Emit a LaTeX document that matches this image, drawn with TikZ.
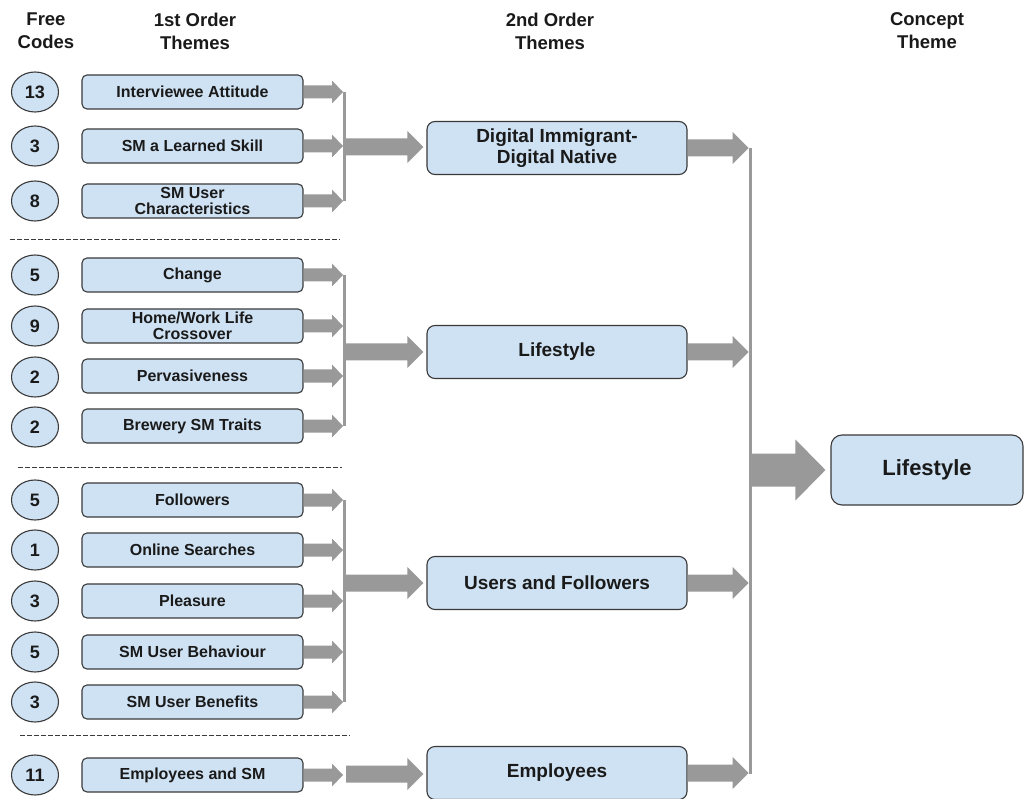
\documentclass[tikz,border=0pt]{standalone}
\usepackage{fontspec}
\setmainfont{Liberation Sans}
\usetikzlibrary{shapes.geometric,calc}

\definecolor{boxfill}{HTML}{CFE2F3}
\definecolor{boxline}{HTML}{3A3A3A}
\definecolor{arrowgray}{HTML}{999999}
\definecolor{inkcol}{HTML}{1A1A1A}

% horizontal block arrow: start, end, half shaft, half head, head length
\newcommand{\blockarr}[5]{%
  \fill[arrowgray] let \p1=(#1), \p2=(#2) in
    (\x1,{\y1+#3}) -- ({\x2-#5},{\y1+#3}) -- ({\x2-#5},{\y1+#4})
    -- (\x2,\y1) -- ({\x2-#5},{\y1-#4}) -- ({\x2-#5},{\y1-#3})
    -- (\x1,{\y1-#3}) -- cycle;}
\newcommand{\smallarr}[2]{\blockarr{#1}{#2}{6.5pt}{11.5pt}{11pt}}
\newcommand{\midarr}[2]{\blockarr{#1}{#2}{8.5pt}{16pt}{16pt}}

\begin{document}
\begin{tikzpicture}[x=1pt,y=-1pt,
  every node/.style={text=inkcol},
  head/.style={align=center,font=\fontsize{18.5}{23}\selectfont\bfseries},
  code/.style={ellipse,draw=boxline,line width=1.1pt,fill=boxfill,
    minimum width=47pt,minimum height=40pt,inner sep=0pt,
    font=\fontsize{18}{18}\selectfont\bfseries},
  first/.style={rectangle,rounded corners=5pt,draw=boxline,line width=1.1pt,
    fill=boxfill,minimum width=221pt,minimum height=34pt,inner sep=0pt,
    align=center,font=\fontsize{16}{16.5}\selectfont\bfseries},
  second/.style={rectangle,rounded corners=8pt,draw=boxline,line width=1.1pt,
    fill=boxfill,minimum width=260pt,minimum height=53pt,inner sep=0pt,
    align=center,font=\fontsize{19}{21}\selectfont\bfseries},
  concept/.style={rectangle,rounded corners=11pt,draw=boxline,line width=1.1pt,
    fill=boxfill,minimum width=192pt,minimum height=70pt,inner sep=0pt,
    align=center,font=\fontsize{22}{24}\selectfont\bfseries},
  bar/.style={draw=arrowgray,line width=3pt},
  divider/.style={draw=boxline,line width=1pt,dash pattern=on 4.5pt off 2.5pt}]

\fill[white] (0,0) rectangle (1025,799);
\useasboundingbox (0,0) rectangle (1025,799);

% column headings
\node[head] (hfree)    at (46,31)  {Free\\Codes};
\node[head] (hfirst)   at (195,31) {1st Order\\Themes};
\node[head] (hsecond)  at (550,31) {2nd Order\\Themes};
\node[head] (hconcept) at (927,31) {Concept\\Theme};

% free codes
\foreach \n/\y/\v in {c1/92/13, c2/146/3, c3/201/8, c4/275/5, c5/326/9,
    c6/377/2, c7/427/2, c8/500/5, c9/550/1, c10/601/3, c11/652/5,
    c12/702/3, c13/775/11}
  \node[code] (\n) at (35,\y) {\v};

% first order themes
\node[first] (t1)  at (192.5,92)  {Interviewee Attitude};
\node[first] (t2)  at (192.5,146) {SM a Learned Skill};
\node[first] (t3)  at (192.5,201) {SM User\\Characteristics};
\node[first] (t4)  at (192.5,275) {Change};
\node[first] (t5)  at (192.5,326) {Home/Work Life\\Crossover};
\node[first] (t6)  at (192.5,376) {Pervasiveness};
\node[first] (t7)  at (192.5,426) {Brewery SM Traits};
\node[first] (t8)  at (192.5,500) {Followers};
\node[first] (t9)  at (192.5,550) {Online Searches};
\node[first] (t10) at (192.5,601) {Pleasure};
\node[first] (t11) at (192.5,652) {SM User Behaviour};
\node[first] (t12) at (192.5,702) {SM User Benefits};
\node[first] (t13) at (192.5,775) {Employees and SM};

% second order themes
\node[second] (d1) at (557,148) {Digital Immigrant-\\Digital Native};
\node[second] (d2) at (557,352) {Lifestyle};
\node[second] (d3) at (557,583) {Users and Followers};
\node[second] (d4) at (557,773) {Employees};

% concept theme
\node[concept] (k) at (927,470) {Lifestyle};

% group dividers
\draw[divider] (10,240) -- (340,240);
\draw[divider] (18,467) -- (342,467);
\draw[divider] (20,735) -- (350,735);

% collecting bars
\coordinate (g1top) at (344.5,92);  \coordinate (g1bot) at (344.5,201);
\coordinate (g2top) at (344.5,275); \coordinate (g2bot) at (344.5,426);
\coordinate (g3top) at (344.5,500); \coordinate (g3bot) at (344.5,702);
\coordinate (rtop)  at (750,148);   \coordinate (rbot)  at (750,774);
\draw[bar] (g1top) -- (g1bot);
\draw[bar] (g2top) -- (g2bot);
\draw[bar] (g3top) -- (g3bot);
\draw[bar] (rtop) -- (rbot);

% first order -> bars
\foreach \t/\g in {t1/g1top,t2/g1top,t3/g1top,t4/g2top,t5/g2top,t6/g2top,
    t7/g2top,t8/g3top,t9/g3top,t10/g3top,t11/g3top,t12/g3top}
  \smallarr{\t.east}{[xshift=-1.5pt]\t.east -| \g};
\coordinate (e1) at (343,774);
\coordinate (e2) at (346,774);
\smallarr{t13.east}{e1}

% bars -> second order
\coordinate (g1mid) at (346,147);
\coordinate (g2mid) at (346,352);
\coordinate (g3mid) at (346,583);
\midarr{g1mid}{[xshift=-3pt]d1.west}
\midarr{g2mid}{[xshift=-3pt]d2.west}
\midarr{g3mid}{[xshift=-3pt]d3.west}
\midarr{e2}{[xshift=-3pt]d4.west}

% second order -> right bar
\foreach \d in {d1,d2,d3,d4}
  \midarr{\d.east}{[xshift=-1.5pt]\d.east -| rtop};

% right bar -> concept
\coordinate (kstart) at (751.5,470);
\blockarr{kstart}{[xshift=-5pt]k.west}{16.5pt}{30.5pt}{30pt}

\end{tikzpicture}
\end{document}
